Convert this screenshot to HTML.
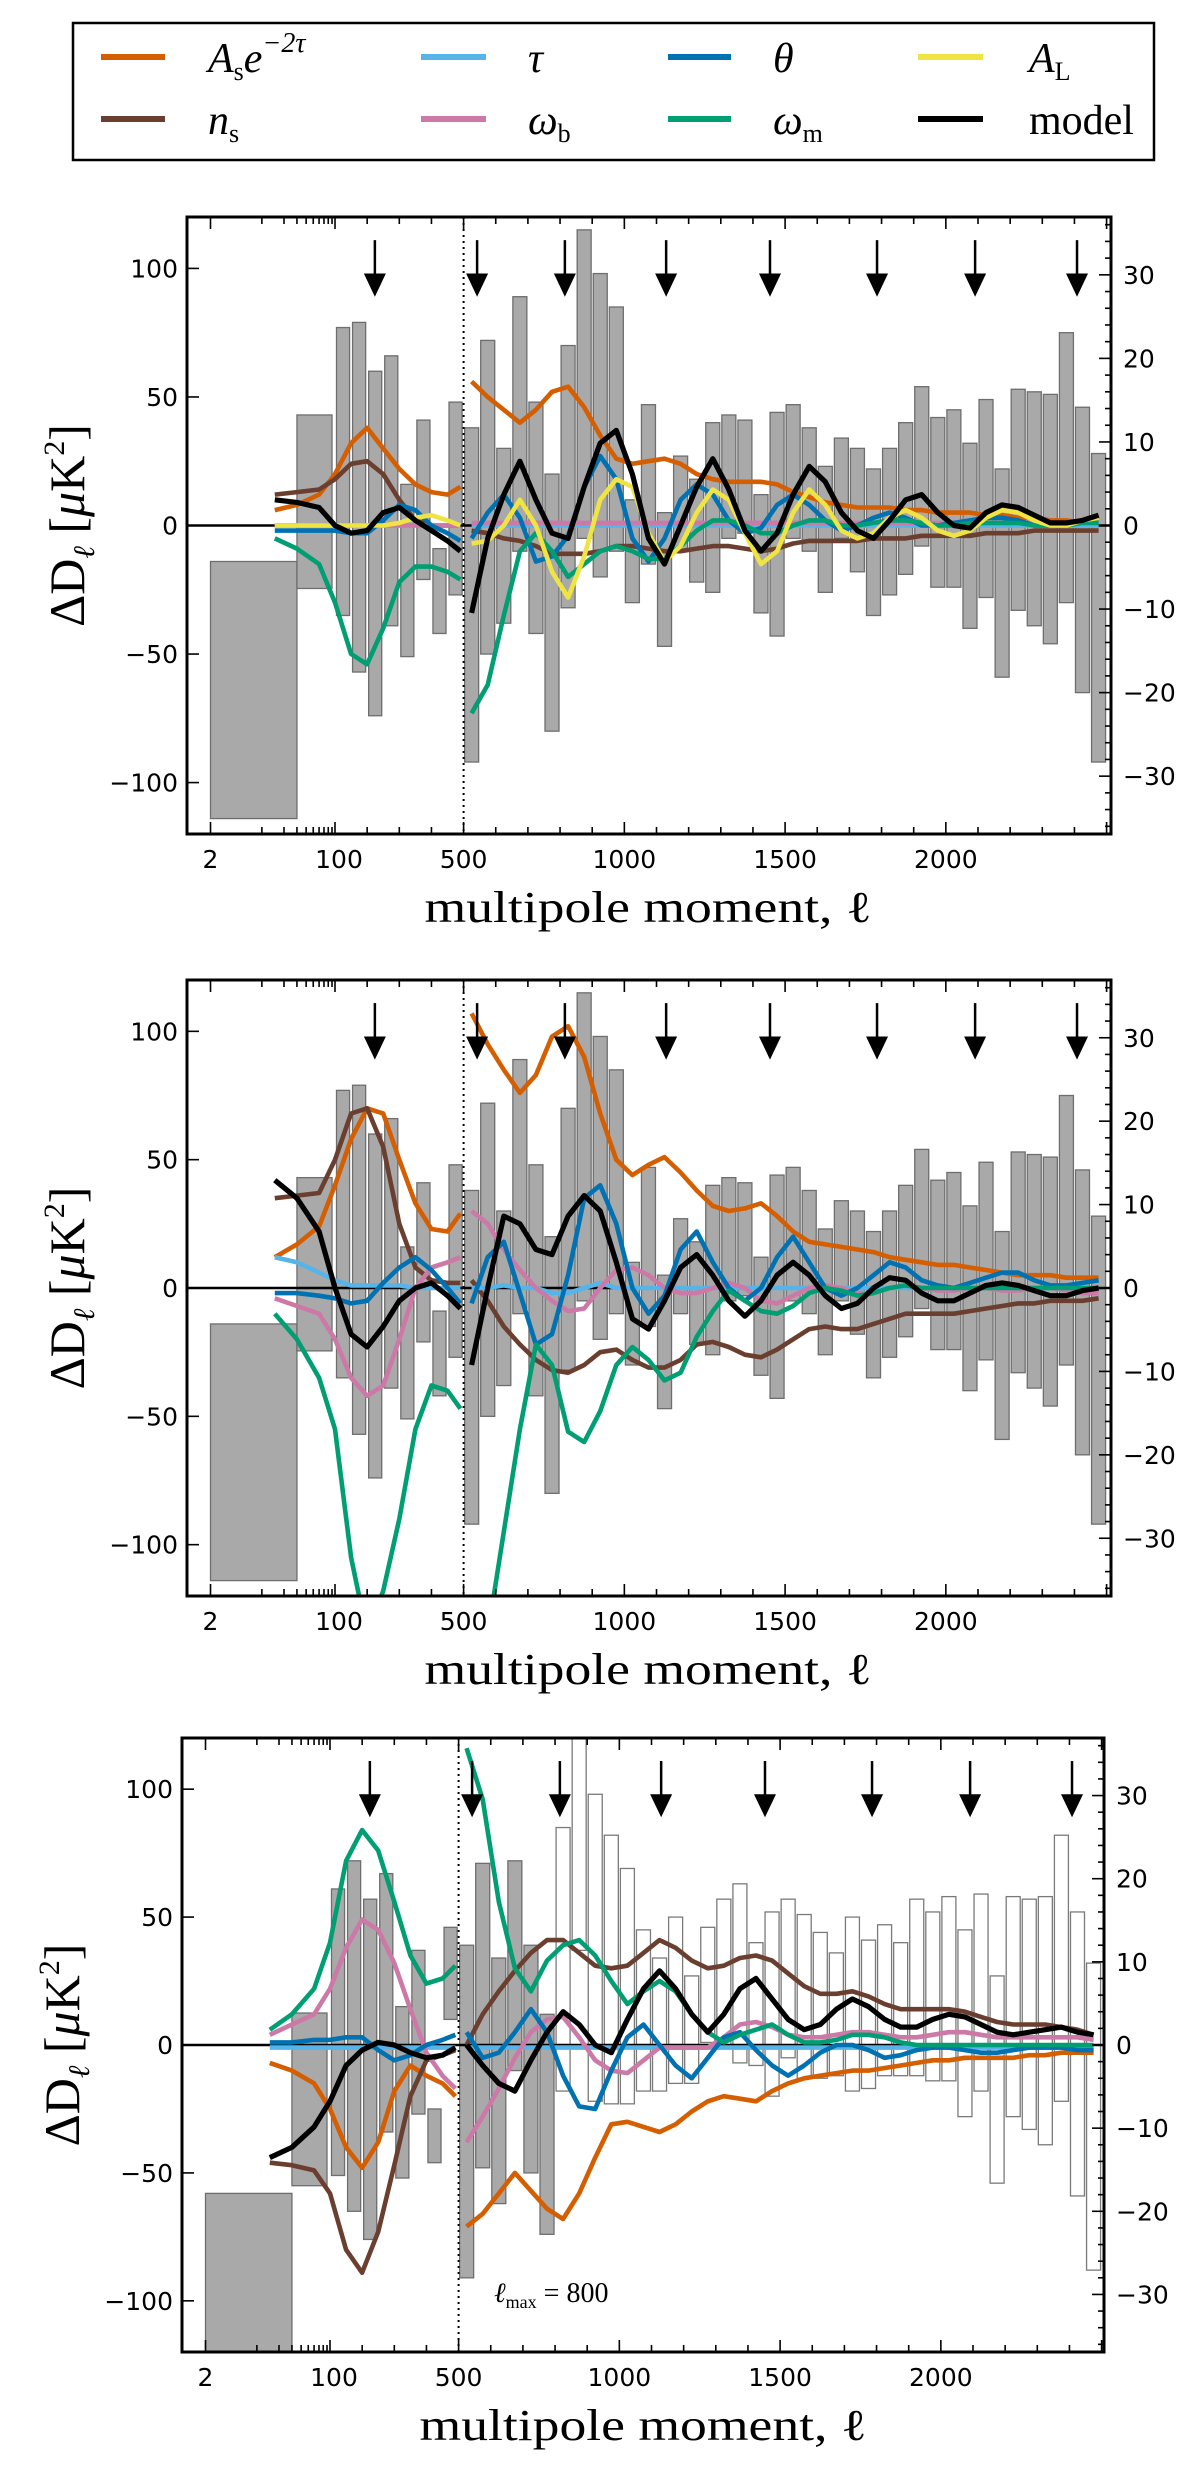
<!DOCTYPE html>
<html><head><meta charset="utf-8"><style>
html,body{margin:0;padding:0;background:#fff;}
svg{display:block;}
</style></head><body>
<svg id="fig" width="1200" height="2474" viewBox="0 0 1200 2474" xmlns="http://www.w3.org/2000/svg">
<rect x="0" y="0" width="1200" height="2474" fill="#fff"/>
<g font-family="'Liberation Serif', serif" font-size="42">
<rect x="73" y="23" width="1081" height="137" fill="#fff" stroke="#000" stroke-width="2.5"/>
<line x1="101" y1="57" x2="165" y2="57" stroke="#D55E00" stroke-width="6"/>
<text x="208" y="72" font-style="italic">A<tspan font-size="26" dy="8" font-style="normal">s</tspan><tspan dy="-8">e</tspan><tspan font-size="28" dy="-20">−2τ</tspan></text>
<line x1="421" y1="57" x2="486" y2="57" stroke="#56B4E9" stroke-width="6"/>
<text x="528" y="72" font-style="italic">τ</text>
<line x1="668" y1="57" x2="731" y2="57" stroke="#0072B2" stroke-width="6"/>
<text x="773" y="72" font-style="italic">θ</text>
<line x1="918" y1="57" x2="983" y2="57" stroke="#F0E442" stroke-width="6"/>
<text x="1029" y="72" font-style="italic">A<tspan font-size="26" dy="8" font-style="normal">L</tspan></text>
<line x1="101" y1="119" x2="165" y2="119" stroke="#6B3F2F" stroke-width="6"/>
<text x="208" y="134" font-style="italic">n<tspan font-size="26" dy="8" font-style="normal">s</tspan></text>
<line x1="421" y1="119" x2="486" y2="119" stroke="#CC79A7" stroke-width="6"/>
<text x="528" y="134" font-style="italic">ω<tspan font-size="26" dy="8" font-style="normal">b</tspan></text>
<line x1="668" y1="119" x2="731" y2="119" stroke="#009E73" stroke-width="6"/>
<text x="773" y="134" font-style="italic">ω<tspan font-size="26" dy="8" font-style="normal">m</tspan></text>
<line x1="918" y1="119" x2="983" y2="119" stroke="#000" stroke-width="6"/>
<text x="1029" y="134">model</text>
</g>
</svg>
<script>
// ---- shared data ----
const LOW_L=[15,30,60,100,150,200,250,300,350,400,450,490];
const HIGH_L=[525,575,625,675,725,775,825,875,925,975,1025,1075,1125,1175,1225,1275,1325,1375,1425,1475,1525,1575,1625,1675,1725,1775,1825,1875,1925,1975,2025,2075,2125,2175,2225,2275,2325,2375,2425,2475];
const ARROW_L=[224,542,815,1130,1453,1786,2091,2408];
const X_TICK_VALUES=[2,100,500,1000,1500,2000];
const X_TICK_LABELS=["2","100","500","1000","1500","2000"];
const Y_TICK_VALUES=[-100,-50,0,50,100];
const Y_TICK_LABELS=["−100","−50","0","50","100"];
const R_TICK_VALUES=[-30,-20,-10,0,10,20,30];
const R_TICK_LABELS=["−30","−20","−10","0","10","20","30"];
// bars (low-ℓ bins)
const LBIN_LO=[2,30,100,150,200,250,300,350,400,450];
const LBIN_HI=[30,90,150,200,250,300,350,400,450,500];
const P12_LBAR_MIN=[-114,-24.5,-35,-57,-74,-39,-51,-21,-42,-27];
const P12_LBAR_MAX=[-14,43,77,79,60,66,16,41,-9,48];
const P12_HBAR_MIN=[-92,-50,-38,-10,-42,-80,-32,-5,-20,-10,-30,-15,-47,-10,-22,-26,-5,-3,-34,-43,-5,-10,-26,-5,-18,-35,-27,-19,-8,-24,-24,-40,-28,-59,-33,-39,-46,-30,-65,-92];
const P12_HBAR_MAX=[38,72,30,89,48,20,70,115,98,85,10,47,5,27,18,40,43,41,12,44,47,38,23,34,30,22,30,40,54,42,45,32,49,22,53,52,51,75,46,28];
const P3_LBAR_MIN=[-130,-55,-51,-65,-76,-34,-52,-27,-46,10];
const P3_LBAR_MAX=[-58,12.5,61,72,57,67,15,37,-25,46];
const P3_HBAR_MIN=[-91,-48,-62,-10,-50,-74,-18,37,-22,-23,-23,-18,-18,-15,-15,1,0,-7,-8,-20,-5,-13,-13,-12,-18,-17,-12,-12,-12,-14,-14,-28,-18,-54,-28,-33,-39,-22,-59,-88];
const P3_HBAR_MAX=[39,71,34,72,39,12,85,125,98,82,69,45,34,50,27,46,57,63,40,52,57,51,44,36,50,41,47,40,57,52,58,45,59,27,58,57,58,82,52,32];
// ---- panel 1 series ----
const P1_AS_LOW=[6,8,12,20,32,38,30,22,16,13,12,15];
const P1_AS_HIGH=[56,50,45,40,45,52,54,46,35,26,24,25,26,24,20,18,17,17,17,16,13,11,9,8,7,7,7,6,6,5,5,5,4,4,3,3,2,2,1,1];
const P1_NS_LOW=[12,13,14,18,24,25,20,10,2,0,0,0];
const P1_NS_HIGH=[-2,-3,-5,-6,-8,-11,-11,-11,-10,-8,-8,-9,-10,-10,-9,-8,-8,-9,-10,-9,-7,-6,-6,-6,-6,-5,-5,-5,-4,-4,-4,-4,-3,-3,-3,-2,-2,-2,-2,-2];
const P1_TAU_LOW=[0,0,0,0,0,0,0,0,0,0,0,0];
const P1_TAU_HIGH=[0,0,0,0,0,0,0,0,0,0,0,0,0,0,0,0,0,0,0,0,0,0,0,0,0,0,0,0,0,0,0,0,0,0,0,0,0,0,0,0];
const P1_WB_LOW=[0,0,0,0,0,0,0,0,0,0,0,0];
const P1_WB_HIGH=[1,1,1,1,1,1,1,1,1,1,1,1,1,1,1,1,1,1,1,1,1,1,1,1,1,1,1,1,1,1,1,1,1,1,1,1,1,1,1,1];
const P1_TH_LOW=[-2,-2,-2,-2,-3,-3,2,8,6,0,-3,-6];
const P1_TH_HIGH=[-5,5,12,3,-14,-12,-4,15,27,18,-5,-14,-5,10,16,12,2,-3,-1,8,12,8,2,-2,0,3,5,3,0,0,1,2,3,3,2,0,0,1,2,2];
const P1_WM_LOW=[-5,-9,-15,-30,-50,-54,-40,-22,-16,-16,-18,-21];
const P1_WM_HIGH=[-73,-62,-35,-10,-3,-10,-20,-15,-10,-8,-10,-13,-13,-8,-2,2,2,0,-3,-3,0,2,2,0,0,1,2,2,1,0,0,1,1,1,1,0,0,0,1,1];
const P1_AL_LOW=[0,0,0,0,0,0,0,1,3,4,2,0];
const P1_AL_HIGH=[-7,-6,0,10,0,-18,-28,-12,10,18,15,-3,-14,-8,5,14,10,-3,-15,-10,5,14,8,-2,-5,-3,3,6,3,-2,-4,-2,3,6,5,2,0,0,2,3];
const P1_MODEL_LOW=[10,9,7,0,-3,-2,5,7,2,-2,-6,-10];
const P1_MODEL_HIGH=[-34,-5,12,25,10,-3,-5,15,32,37,20,-5,-15,0,15,26,14,-2,-10,-3,12,23,17,5,-2,-5,2,10,12,5,0,-1,5,8,7,4,1,1,2,4];
// ---- panel 2 series ----
const P2_AS_LOW=[12,17,24,40,58,70,68,50,33,23,22,29];
const P2_AS_HIGH=[107,95,85,76,83,98,102,90,68,50,44,48,51,45,38,32,30,31,33,28,22,18,17,16,15,14,12,11,10,9,9,8,7,6,5,5,5,4,4,4];
const P2_NS_LOW=[35,36,37,50,68,70,55,25,8,3,2,2];
const P2_NS_HIGH=[3,-5,-15,-22,-28,-32,-33,-30,-25,-24,-28,-31,-31,-28,-22,-21,-23,-26,-27,-24,-20,-16,-15,-16,-16,-14,-12,-10,-10,-10,-10,-9,-8,-7,-6,-6,-5,-5,-5,-4];
const P2_TAU_LOW=[12,10,6,3,1,1,1,1,0,0,0,0];
const P2_TAU_HIGH=[0,0,1,0,0,-2,-2,0,2,0,0,0,0,0,0,0,0,0,0,0,0,0,0,0,0,0,0,0,0,0,0,0,0,0,0,0,0,0,0,0];
const P2_WB_LOW=[-4,-7,-10,-20,-35,-42,-38,-20,0,8,10,12];
const P2_WB_HIGH=[30,25,15,7,0,-5,-9,-8,0,7,8,5,0,-2,-2,0,2,0,-5,-6,-3,0,1,0,-2,-2,0,1,0,-1,-1,0,0,-1,-1,0,0,-1,-2,-2];
const P2_TH_LOW=[-2,-2,-3,-4,-6,-5,2,8,12,7,0,-6];
const P2_TH_HIGH=[-6,12,18,-2,-22,-18,5,35,40,25,0,-10,-3,15,22,10,0,-5,0,12,20,10,0,-3,0,5,10,8,3,1,0,2,4,6,6,3,1,1,2,3];
const P2_WM_LOW=[-10,-20,-35,-55,-105,-135,-118,-90,-55,-38,-40,-47];
const P2_WM_HIGH=[-125,-135,-95,-55,-22,-30,-56,-60,-48,-30,-23,-28,-36,-33,-19,-9,-1,-5,-9,-10,-7,-2,0,-1,-3,-2,0,1,0,0,0,0,0,0,0,0,0,0,0,0];
const P2_MODEL_LOW=[42,35,22,0,-18,-23,-15,-5,0,2,-3,-8];
const P2_MODEL_HIGH=[-30,0,28,25,15,13,28,36,30,10,-12,-16,-5,8,13,5,-5,-11,-5,5,10,5,-3,-8,-6,0,4,3,-2,-5,-5,-2,1,2,1,-1,-3,-3,-1,0];
// ---- panel 3 series ----
const P3_AS_LOW=[-7,-10,-15,-25,-40,-48,-38,-18,-8,-12,-15,-20];
const P3_AS_HIGH=[-71,-66,-58,-50,-57,-64,-68,-58,-44,-31,-30,-32,-34,-31,-26,-22,-20,-21,-22,-18,-15,-13,-12,-11,-10,-10,-9,-8,-7,-6,-6,-5,-5,-5,-5,-4,-4,-3,-3,-3];
const P3_NS_LOW=[-46,-47,-49,-58,-80,-89,-73,-47,-20,-6,-4,-2];
const P3_NS_HIGH=[0,12,21,29,36,41,41,36,31,30,31,36,41,38,33,30,31,34,35,33,28,23,20,20,21,19,16,14,14,14,14,13,11,9,8,8,8,7,6,4];
const P3_TAU_LOW=[-1,-1,-1,-1,-1,-1,-1,-1,-1,-1,-1,-1];
const P3_TAU_HIGH=[-1,-1,-1,-1,-1,-1,-1,-1,-1,-1,-1,-1,-1,-1,-1,-1,-1,-1,-1,-1,-1,-1,-1,-1,-1,-1,-1,-1,-1,-1,-1,-1,-1,-1,-1,-1,-1,-1,-1,-1];
const P3_WB_LOW=[4,8,12,22,38,49,45,32,14,-3,-12,-17];
const P3_WB_HIGH=[-38,-28,-17,-5,5,10,11,3,-6,-10,-11,-6,-1,-1,-1,-1,3,8,9,7,4,3,3,4,5,5,4,3,3,4,5,5,4,3,3,3,3,3,3,2];
const P3_TH_LOW=[1,1,2,2,3,3,-2,-6,-4,0,2,4];
const P3_TH_HIGH=[5,-5,-3,5,14,5,-12,-24,-25,-10,3,8,0,-8,-13,-5,3,5,-2,-8,-12,-8,-3,0,0,-2,-5,-4,-2,-1,-1,-2,-3,-3,-2,-1,-1,-1,-2,-2];
const P3_WM_LOW=[6,12,22,40,72,84,76,56,35,24,26,31];
const P3_WM_HIGH=[116,96,56,30,21,33,39,41,35,25,16,21,25,21,12,5,1,4,6,8,4,1,1,2,4,4,3,1,0,0,0,0,0,0,0,0,0,0,0,0];
const P3_MODEL_LOW=[-44,-40,-32,-22,-8,-2,1,0,-3,-5,-4,-1];
const P3_MODEL_HIGH=[0,-8,-15,-18,-6,5,13,8,0,-3,10,22,29,22,12,5,12,22,26,18,10,6,8,14,18,15,10,7,7,10,12,11,8,5,4,5,6,7,5,4];

const SVGNS='http://www.w3.org/2000/svg';
const svg=document.getElementById('fig');
function mk(tag,attrs,parent){const e=document.createElementNS(SVGNS,tag);for(const k in attrs)e.setAttribute(k,attrs[k]);parent.appendChild(e);return e;}

const C={as:'#D55E00',ns:'#6B3F2F',tau:'#56B4E9',wb:'#CC79A7',th:'#0072B2',wm:'#009E73',al:'#F0E442',model:'#000'};

function drawPanel(idx,p,series,lbMin,lbMax,hbMin,hbMax,openAbove){
  const y0=(p.top+p.bottom)/2, k=(p.bottom-p.top)/240;
  const X=l=>p.dx+(l<100?210.5+(Math.log10(l)-0.301)*73.5:335+(l-100)*0.3215);
  const Y=v=>y0-v*k;
  const g=mk('g',{},svg);
  
  
  const cp=mk('clipPath',{id:'clip'+idx},g);
  mk('rect',{x:p.left,y:p.top,width:p.right-p.left,height:p.bottom-p.top},cp);
  const plot=mk('g',{'clip-path':'url(#clip'+idx+')'},g);
  
  
  for(let i=0;i<LBIN_LO.length;i++){
    let x1=X(LBIN_LO[i]),x2=X(LBIN_HI[i]);
    if(i>=2){x1+=1.5;x2-=1.5;}
    const r=mk('rect',{x:x1,y:Y(lbMax[i]),width:x2-x1,height:Y(lbMin[i])-Y(lbMax[i]),fill:'#a9a9a9',stroke:'#6e6e6e','stroke-width':1.3},plot);
    
    
  }
  for(let i=0;i<HIGH_L.length;i++){
    const xc=X(HIGH_L[i]);const open=HIGH_L[i]>openAbove;
    const r=mk('rect',{x:xc-7,y:Y(hbMax[i]),width:14,height:Y(hbMin[i])-Y(hbMax[i]),fill:open?'none':'#a9a9a9',stroke:open?'#7a7a7a':'#6e6e6e','stroke-width':1.3},plot);
    
    
  }
  const zl=mk('line',{x1:p.left,x2:p.right,y1:Y(0),y2:Y(0),stroke:'#000','stroke-width':2.5},plot);
  
  
  const dl=mk('line',{x1:X(500),x2:X(500),y1:p.top,y2:p.bottom,stroke:'#000','stroke-width':2,'stroke-dasharray':'2,4'},plot);
  
  
  series.forEach(s=>{
    [[LOW_L,s.low],[HIGH_L,s.high]].forEach(([ls,vs],j)=>{
      const pts=ls.map((l,i)=>X(l).toFixed(1)+','+Y(vs[i]).toFixed(1)).join(' ');
      const pl=mk('polyline',{points:pts,fill:'none',stroke:s.color,'stroke-width':s.w||4.6,'stroke-linejoin':'round'},plot);
      
      
    });
  });
  ARROW_L.forEach((l,i)=>{
    const x=X(l);
    const a=mk('g',{},plot);
    
    
    mk('line',{x1:x,x2:x,y1:Y(111),y2:Y(95),stroke:'#000','stroke-width':2.5},a);
    mk('polygon',{points:`${x-11},${Y(98)} ${x+11},${Y(98)} ${x},${Y(89)}`,fill:'#000'},a);
  });
  const tk=mk('g',{stroke:'#000','stroke-width':1.6},g);
  
  
  const xt=[[2,12]];
  for(let l=10;l<100;l+=10)xt.push([l,7]);
  for(let l=100;l<=2500;l+=100)xt.push([l,(l%500===0||l===100)?12:7]);
  xt.forEach(([l,len])=>{const x=X(l);
    mk('line',{x1:x,x2:x,y1:p.bottom,y2:p.bottom-len},tk);
    mk('line',{x1:x,x2:x,y1:p.top,y2:p.top+len},tk);});
  Y_TICK_VALUES.forEach(v=>mk('line',{x1:p.left,x2:p.left+12,y1:Y(v),y2:Y(v)},tk));
  for(let r=-36;r<=36;r+=2){const y=Y(r*3.25);const len=(r%10===0)?12:6;mk('line',{x1:p.right,x2:p.right-len,y1:y,y2:y},tk);}
  const fr=mk('rect',{x:p.left,y:p.top,width:p.right-p.left,height:p.bottom-p.top,fill:'none',stroke:'#000','stroke-width':3},g);
  
  
  const lab=mk('g',{'font-family':"'DejaVu Sans','Liberation Sans',sans-serif",'font-size':25,fill:'#000'},g);
  
  
  X_TICK_VALUES.forEach((l,i)=>{const t=mk('text',{x:X(l)+(i===1?4:0),y:p.bottom+34,'text-anchor':'middle'},lab);t.textContent=X_TICK_LABELS[i];
    
    });
  Y_TICK_VALUES.forEach((v,i)=>{const t=mk('text',{x:p.left-9,y:Y(v)+9,'text-anchor':'end'},lab);t.textContent=Y_TICK_LABELS[i];
    
    });
  R_TICK_VALUES.forEach((v,i)=>{const t=mk('text',{x:p.right+12,y:Y(v*3.25)+9,'text-anchor':'start'},lab);t.textContent=R_TICK_LABELS[i];
    
    });
  const xl=mk('text',{x:648+p.dx,y:p.bottom+88,'text-anchor':'middle','font-family':"'Liberation Serif',serif",'font-size':44,textLength:447,lengthAdjust:'spacingAndGlyphs'},g);
  xl.textContent='multipole moment, ℓ';
  
  
  const yl=mk('text',{transform:`translate(${84+p.dx},${y0}) rotate(-90)`,'text-anchor':'middle','font-family':"'Liberation Serif',serif",'font-size':50},g);
  yl.innerHTML='ΔD<tspan font-size="30" dy="10" font-style="italic">ℓ</tspan><tspan dy="-10"> [</tspan><tspan font-style="italic">μ</tspan>K<tspan font-size="30" dy="-20">2</tspan><tspan dy="20">]</tspan>';
  
  
  return {X,Y,g};
}

const S=(name,color,low,high,w)=>({name,color,low,high,w});
drawPanel(1,{top:217,bottom:834,left:187,right:1111,dx:0},[
  S('as-curve',C.as,P1_AS_LOW,P1_AS_HIGH),S('ns-curve',C.ns,P1_NS_LOW,P1_NS_HIGH),
  S('tau-curve',C.tau,P1_TAU_LOW,P1_TAU_HIGH),S('wb-curve',C.wb,P1_WB_LOW,P1_WB_HIGH),
  S('theta-curve',C.th,P1_TH_LOW,P1_TH_HIGH),S('wm-curve',C.wm,P1_WM_LOW,P1_WM_HIGH),
  S('al-curve',C.al,P1_AL_LOW,P1_AL_HIGH),S('model-curve',C.model,P1_MODEL_LOW,P1_MODEL_HIGH,5.2)
],P12_LBAR_MIN,P12_LBAR_MAX,P12_HBAR_MIN,P12_HBAR_MAX,99999);

drawPanel(2,{top:980,bottom:1596,left:187,right:1111,dx:0},[
  S('as-curve',C.as,P2_AS_LOW,P2_AS_HIGH),S('ns-curve',C.ns,P2_NS_LOW,P2_NS_HIGH),
  S('tau-curve',C.tau,P2_TAU_LOW,P2_TAU_HIGH),S('wb-curve',C.wb,P2_WB_LOW,P2_WB_HIGH),
  S('theta-curve',C.th,P2_TH_LOW,P2_TH_HIGH),S('wm-curve',C.wm,P2_WM_LOW,P2_WM_HIGH),
  S('model-curve',C.model,P2_MODEL_LOW,P2_MODEL_HIGH,5.2)
],P12_LBAR_MIN,P12_LBAR_MAX,P12_HBAR_MIN,P12_HBAR_MAX,99999);

const p3=drawPanel(3,{top:1738,bottom:2352,left:182,right:1104,dx:-5},[
  S('as-curve',C.as,P3_AS_LOW,P3_AS_HIGH),S('ns-curve',C.ns,P3_NS_LOW,P3_NS_HIGH),
  S('tau-curve',C.tau,P3_TAU_LOW,P3_TAU_HIGH),S('wb-curve',C.wb,P3_WB_LOW,P3_WB_HIGH),
  S('theta-curve',C.th,P3_TH_LOW,P3_TH_HIGH),S('wm-curve',C.wm,P3_WM_LOW,P3_WM_HIGH),
  S('model-curve',C.model,P3_MODEL_LOW,P3_MODEL_HIGH,5.2)
],P3_LBAR_MIN,P3_LBAR_MAX,P3_HBAR_MIN,P3_HBAR_MAX,800);
const lm=mk('text',{x:494,y:2302,'font-family':"'Liberation Serif',serif",'font-size':28},p3.g);
lm.innerHTML='<tspan font-style="italic">ℓ</tspan><tspan font-size="18" dy="6">max</tspan><tspan dy="-6"> = 800</tspan>';


</script>
</body></html>
